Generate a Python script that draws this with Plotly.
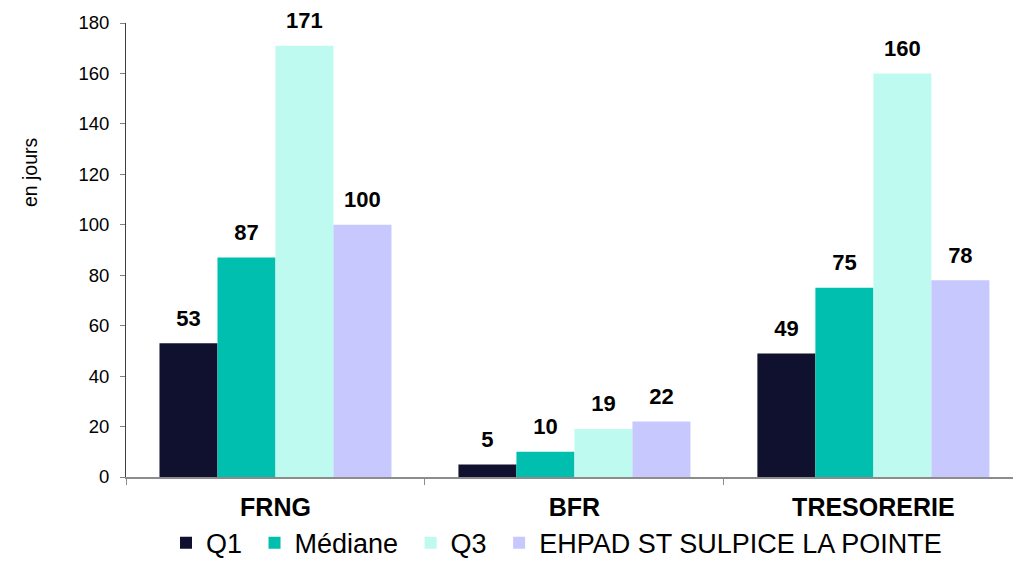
import plotly.graph_objects as go

categories = ["FRNG", "BFR", "TRESORERIE"]
series_names = ["Q1", "Médiane", "Q3", "EHPAD ST SULPICE LA POINTE"]
q1 = [53, 5, 49]
mediane = [87, 10, 75]
q3 = [171, 19, 160]
ehpad = [100, 22, 78]
series_values = [q1, mediane, q3, ehpad]
colors = ["#10102F", "#00BFAE", "#BEFAF0", "#C6C8FE"]
y_ticks = [0, 20, 40, 60, 80, 100, 120, 140, 160, 180]

FONT = "Liberation Sans, Arial, sans-serif"
NBSP = "\u00a0"

fig = go.Figure()

for i, (name, vals, col) in enumerate(zip(series_names, series_values, colors)):
    # non-breaking padding widens the gap between legend entries
    label = name if i == len(series_names) - 1 else name + NBSP
    fig.add_trace(go.Bar(
        x=categories, y=vals, name=label,
        marker=dict(color=col, line=dict(width=0)),
        offsetgroup=str(i), alignmentgroup="g",
    ))

# value labels, grouped like the bars
for i, vals in enumerate(series_values):
    fig.add_trace(go.Scatter(
        x=categories, y=vals, mode="markers+text",
        text=[str(v) for v in vals], textposition="top center",
        textfont=dict(family=FONT, size=22, color="#000000", weight="bold"),
        marker=dict(size=18, opacity=0),
        offsetgroup=str(i), alignmentgroup="g",
        showlegend=False, hoverinfo="skip", cliponaxis=False,
    ))

fig.update_layout(
    width=1013, height=562,
    margin=dict(l=126, r=0, t=23, b=85, autoexpand=False),
    paper_bgcolor="white", plot_bgcolor="white",
    barmode="group", bargap=0.224, bargroupgap=0,
    scattermode="group", scattergap=0.224,
    font=dict(family=FONT, color="#000000"),
    showlegend=True,
    legend=dict(
        orientation="h", x=0.0451, xanchor="left",
        y=-0.146, yanchor="middle",
        font=dict(family=FONT, size=27, color="#000000"),
        traceorder="normal", itemclick=False,
    ),
    xaxis=dict(
        type="category", range=[-0.5, 2.467],
        showline=True, linecolor="#8C8C8C", linewidth=2,
        ticks="outside", tickson="boundaries", ticklen=6, tickcolor="#8C8C8C",
        tickfont=dict(family=FONT, size=25, weight="bold", color="#000000"),
        ticklabelstandoff=7,
        showgrid=False, zeroline=False,
    ),
    yaxis=dict(
        range=[0, 180], tickvals=y_ticks,
        showline=True, linecolor="#404040", linewidth=1,
        ticks="outside", ticklen=5, tickcolor="#808080",
        tickfont=dict(family=FONT, size=18.5, color="#000000"),
        ticklabelstandoff=7,
        showgrid=False, zeroline=False,
    ),
    annotations=[dict(
        text="en jours", textangle=-90,
        xref="paper", yref="paper", x=-0.108, y=0.672,
        xanchor="center", yanchor="middle", showarrow=False,
        font=dict(family=FONT, size=19.5, color="#000000"),
    )],
)

fig.write_html("out.html")
